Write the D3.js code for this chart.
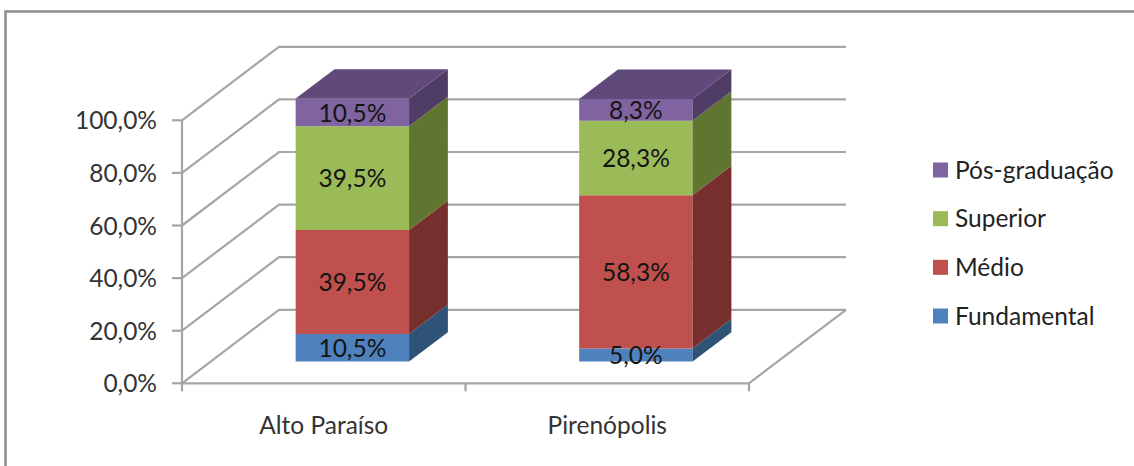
<!DOCTYPE html>
<html>
<head>
<meta charset="utf-8">
<script src="https://cdnjs.cloudflare.com/ajax/libs/d3/7.8.5/d3.min.js"></script>
<style>
html, body { margin: 0; padding: 0; background: #fff; }
svg { display: block; font-family: Lato, "Open Sans", sans-serif; }
</style>
</head>
<body>
<svg id="chart" width="1134" height="466"></svg>
<script>
// Schooling level by municipality (percent of respondents)
const municipalities = ["Alto Paraíso", "Pirenópolis"];
const levels = ["Fundamental", "Médio", "Superior", "Pós-graduação"];
const fundamental = [10.5, 5.0];
const medio = [39.5, 58.3];
const superior = [39.5, 28.3];
const posGraduacao = [10.5, 8.3];
const yTicks = [0, 20, 40, 60, 80, 100];

const frontColors = ["#4f81bd", "#c0504d", "#9bbb59", "#8064a2"];
const sideColors = ["#2f5277", "#772f2d", "#60752f", "#4f3d65"];
const topColor = "#604a7b";

const seriesValues = [fundamental, medio, superior, posGraduacao];
const rows = municipalities.map((name, i) => {
  const row = { name };
  levels.forEach((lvl, j) => { row[lvl] = seriesValues[j][i]; });
  return row;
});
const stacked = d3.stack().keys(levels)(rows);

const svg = d3.select("#chart");
const fontSize = 24.5;

// Frame around the chart area; it runs off the right and bottom of the page
svg.append("rect")
  .attr("x", 5.5).attr("y", 11.5).attr("width", 1140).attr("height", 470)
  .attr("fill", "#fff").attr("stroke", "#8c8c8c").attr("stroke-width", 2.5);

// Front-plane scales plus an oblique depth vector for the 3D look
const x = d3.scaleBand().domain(municipalities).range([182, 749]).paddingInner(0.6).paddingOuter(0.3);
const y = d3.scaleLinear().domain([0, 100]).range([383.3, 120.3]);
const depth = d3.scaleLinear().domain([0, 1]).range([0, 97]);
const rise = d3.scaleLinear().domain([0, 1]).range([0, 73.5]);
const project = (px, val, z) => [px + depth(z), y(val) - rise(z)];
const barNear = 0.295, barFar = 0.695;

const line = d3.line();
const gridColor = "#a6a6a6";

const walls = svg.append("g").attr("fill", "none").attr("stroke", gridColor).attr("stroke-width", 2.2);

// Gridlines wrap from the axis back along the side wall, then across the back wall
walls.selectAll("path.grid").data(yTicks).join("path")
  .attr("class", "grid")
  .attr("d", t => line([project(182, t, 0), project(182, t, 1), project(749, t, 1)]));

// Floor edges
walls.append("path").attr("d", line([project(182, 0, 0), project(749, 0, 0), project(749, 0, 1)]));

// Value axis
walls.append("path").attr("d", line([[182, y(100)], [182, y(0)]]));
walls.selectAll("path.ytick").data(yTicks).join("path")
  .attr("class", "ytick")
  .attr("d", t => line([[172, y(t)], [182, y(t)]]));

// Category axis ticks
const catEdges = [x.range()[0], d3.mean(x.range()), x.range()[1]];
walls.selectAll("path.xtick").data(catEdges).join("path")
  .attr("class", "xtick")
  .attr("d", e => line([[e, y(0)], [e, y(0) + 8]]));

const fmt = v => v.toFixed(1).replace(".", ",") + "%";

svg.append("g").selectAll("text").data(yTicks).join("text")
  .attr("x", 157).attr("y", t => y(t) + 0.5).attr("dy", "0.35em")
  .attr("text-anchor", "end").attr("font-size", fontSize).attr("fill", "#333")
  .text(fmt);

svg.append("g").selectAll("text").data(municipalities).join("text")
  .attr("x", d => x(d) + x.bandwidth() / 2).attr("y", 434)
  .attr("text-anchor", "middle").attr("font-size", fontSize).attr("fill", "#333")
  .text(d => d);

// Stacked 3D bars
const bars = svg.append("g");
municipalities.forEach((name, i) => {
  const left = x(name), right = left + x.bandwidth();
  stacked.forEach((s, k) => {
    const [v0, v1] = s[i];
    const g = bars.append("g");
    const a = project(left, v1, barNear), b = project(right, v1, barNear), c = project(right, v0, barNear), e = project(left, v0, barNear);
    g.append("path").attr("fill", frontColors[k]).attr("d", line([a, b, c, e]) + "Z");
    g.append("path").attr("fill", sideColors[k])
      .attr("d", line([b, project(right, v1, barFar), project(right, v0, barFar), c]) + "Z");
    if (k === stacked.length - 1) {
      g.append("path").attr("fill", topColor)
        .attr("d", line([a, project(left, v1, barFar), project(right, v1, barFar), b]) + "Z");
    }
  });
});

// Data labels sit on top of every bar
const labels = svg.append("g");
municipalities.forEach((name, i) => {
  const cx = x(name) + x.bandwidth() / 2;
  stacked.forEach(s => {
    const [v0, v1] = s[i];
    const p = project(cx, (v0 + v1) / 2, barNear);
    labels.append("text")
      .attr("x", p[0]).attr("y", p[1] + 0.5).attr("dy", "0.35em")
      .attr("text-anchor", "middle").attr("font-size", fontSize).attr("fill", "#141414")
      .text(fmt(v1 - v0));
  });
});

// Legend, top entry is the top of the stack
const legendY = d3.scalePoint().domain(levels.slice().reverse()).range([170, 316]);
const legend = svg.append("g").selectAll("g").data(levels.slice().reverse()).join("g")
  .attr("transform", d => `translate(933,${legendY(d)})`);
legend.append("rect")
  .attr("x", 0).attr("y", -7.5).attr("width", 15).attr("height", 15)
  .attr("fill", d => frontColors[levels.indexOf(d)]);
legend.append("text")
  .attr("x", 22).attr("dy", "0.35em").attr("font-size", fontSize).attr("fill", "#222")
  .text(d => d);
</script>
</body>
</html>
